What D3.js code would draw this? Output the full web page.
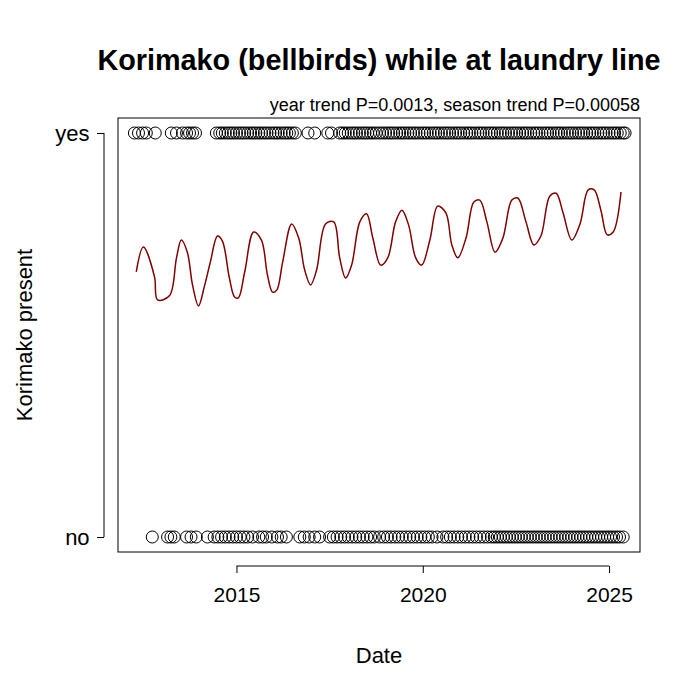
<!DOCTYPE html><html><head><meta charset="utf-8"><script src="https://cdn.jsdelivr.net/npm/d3@7"></script>
<style>body{margin:0;background:#fff}text{font-family:"Liberation Sans",Arial,sans-serif}</style></head><body><svg id="c" width="700" height="700"></svg><script>
const yesDates=[2012.26,2012.37,2012.48,2012.58,2012.82,2013.25,2013.39,2013.55,2013.66,2013.74,2013.82,2013.90,
2014.46,2014.55,2014.62,2014.7,2014.78,2014.85,2014.92,2015.0,2015.08,2015.15,2015.22,2015.3,2015.38,2015.45,2015.52,2015.6,2015.67,2015.75,2015.82,2015.9,2015.98,2016.05,2016.12,2016.2,2016.28,2016.35,2016.42,2016.5,2016.58,
2016.92,2017.1,2017.45,2017.55,2017.77,2017.85,2017.92,2018.0,2018.08,2018.15,2018.22,2018.3,2018.38,2018.45,2018.52,2018.6,2018.67,2018.75,2018.84,2018.92,2019.0,2019.08,2019.15,2019.22,2019.3,2019.38,2019.45,2019.52,2019.6,2019.67,2019.75,2019.82,2019.9,2019.98,2020.05,2020.12,2020.2,2020.28,2020.35,2020.42,2020.5,2020.58,2020.65,2020.72,2020.8,2020.88,2020.95,2021.02,2021.1,2021.18,2021.25,2021.32,2021.4,2021.48,2021.55,2021.62,2021.7,2021.78,2021.85,2021.92,2022.0,2022.08,2022.15,2022.22,2022.3,2022.38,2022.45,2022.52,2022.6,2022.68,2022.75,2022.82,2022.9,2022.98,2023.05,2023.12,2023.2,2023.28,2023.35,2023.42,2023.5,2023.58,2023.65,2023.72,2023.8,2023.88,2023.95,2024.02,2024.1,2024.18,2024.25,2024.32,2024.4,2024.48,2024.55,2024.62,2024.7,2024.78,2024.85,2024.92,2025.0,2025.08,2025.15,2025.22,2025.3,2025.38,2025.43];
const noDates=[2012.74,2013.15,2013.24,2013.33,2013.66,2013.78,2013.92,2014.22,2014.4,2014.5,2014.6,2014.7,2014.8,2014.9,2015.0,2015.1,2015.2,2015.3,2015.43,2015.6,2015.7,2015.8,2015.95,2016.1,2016.2,2016.34,2016.7,2016.82,2016.95,2017.1,2017.23,
2017.5,2017.6,2017.7,2017.8,2017.9,2018.0,2018.1,2018.2,2018.3,2018.4,2018.5,2018.6,2018.7,2018.84,2018.95,2019.05,2019.15,2019.25,2019.35,2019.45,2019.55,2019.65,2019.75,2019.85,2019.95,2020.05,2020.15,2020.25,2020.38,
2020.54,2020.64,2020.74,2020.84,2020.94,2021.04,2021.14,2021.24,2021.34,2021.44,2021.54,2021.64,2021.74,2021.84,2021.92,2022.0,2022.08,2022.16,2022.24,2022.32,2022.4,2022.48,2022.56,2022.64,2022.72,2022.8,2022.88,2022.96,2023.04,2023.12,2023.2,2023.28,2023.36,2023.44,2023.52,2023.6,2023.68,2023.76,2023.84,2023.92,2024.0,2024.08,2024.16,2024.24,2024.32,2024.4,2024.48,2024.56,2024.64,2024.72,2024.8,2024.88,2024.96,2025.04,2025.12,2025.2,2025.28,2025.38];
const fitDates=[2012.31,2012.5,2012.8,2012.88,2013.2,2013.39,2013.52,2013.68,2013.82,2013.98,2014.14,2014.3,2014.49,2014.62,2014.81,2014.95,2015.05,2015.22,2015.46,2015.67,2015.83,2015.97,2016.08,2016.24,2016.48,2016.67,2016.83,2016.99,2017.15,2017.39,2017.61,2017.77,2017.93,2018.09,2018.31,2018.49,2018.66,2018.87,2019.06,2019.27,2019.44,2019.62,2019.81,2019.97,2020.19,2020.40,2020.62,2020.78,2020.94,2021.16,2021.37,2021.53,2021.72,2021.94,2022.15,2022.39,2022.55,2022.77,2022.98,2023.17,2023.41,2023.58,2023.76,2024.0,2024.22,2024.44,2024.6,2024.78,2024.95,2025.11,2025.32];
const fitProb=[.656,.718,.644,.587,.597,.691,.735,.705,.624,.572,.621,.681,.745,.733,.641,.594,.592,.656,.755,.735,.649,.606,.611,.681,.775,.740,.661,.624,.661,.775,.780,.691,.641,.673,.780,.800,.740,.673,.691,.780,.809,.772,.691,.673,.735,.819,.802,.723,.691,.740,.829,.834,.780,.705,.740,.834,.839,.780,.723,.745,.844,.851,.804,.735,.775,.859,.859,.809,.748,.755,.854];
const xTicks=[2015,2020,2025];
const yTicks=[{v:0,l:"no"},{v:1,l:"yes"}];
const svg=d3.select("#c");
const x=d3.scaleLinear().domain([2011.82,2025.83]).range([118,640]);
const y=d3.scaleLinear().domain([0,1]).range([537,133]);
svg.append("rect").attr("x",118).attr("y",118).attr("width",522).attr("height",434).attr("fill","none").attr("stroke","#000");
const xa=svg.append("g").attr("transform","translate(0,566)").call(d3.axisBottom(x).tickValues(xTicks).tickFormat(d3.format("d")).tickSize(7).tickSizeOuter(0));
xa.select(".domain").attr("d",`M${x(2015)},0H${x(2025)}`);
xa.selectAll("text").attr("font-size",21).attr("dy","1.25em").attr("font-family","Liberation Sans, Arial");
const ya=svg.append("g").attr("transform","translate(104,0)").call(d3.axisLeft(y).tickValues(yTicks.map(d=>d.v)).tickFormat((d,i)=>yTicks[i].l).tickSize(7).tickSizeOuter(0));
ya.select(".domain").attr("d",`M0,${y(0)}V${y(1)}`);
ya.selectAll("text").attr("font-size",22).attr("dx","-0.2em").attr("font-family","Liberation Sans, Arial");
svg.append("g").selectAll("circle").data(yesDates).join("circle").attr("cx",d=>x(d)).attr("cy",y(1)).attr("r",6).attr("fill","none").attr("stroke","#000");
svg.append("g").selectAll("circle").data(noDates).join("circle").attr("cx",d=>x(d)).attr("cy",y(0)).attr("r",6).attr("fill","none").attr("stroke","#000");
svg.append("path").datum(fitDates.map((d,i)=>[d,fitProb[i]])).attr("d",d3.line().curve(d3.curveCatmullRom).x(d=>x(d[0])).y(d=>y(d[1]))).attr("fill","none").attr("stroke","#800000").attr("stroke-width",1.5);
svg.append("text").attr("x",379).attr("y",70).attr("text-anchor","middle").attr("font-size",28.8).attr("font-weight","bold").text("Korimako (bellbirds) while at laundry line");
svg.append("text").attr("x",640).attr("y",111).attr("text-anchor","end").attr("font-size",18).text("year trend P=0.0013, season trend P=0.00058");
svg.append("text").attr("x",379).attr("y",663).attr("text-anchor","middle").attr("font-size",22).text("Date");
svg.append("text").attr("transform","translate(32,335) rotate(-90)").attr("text-anchor","middle").attr("font-size",22).text("Korimako present");
</script></body></html>
